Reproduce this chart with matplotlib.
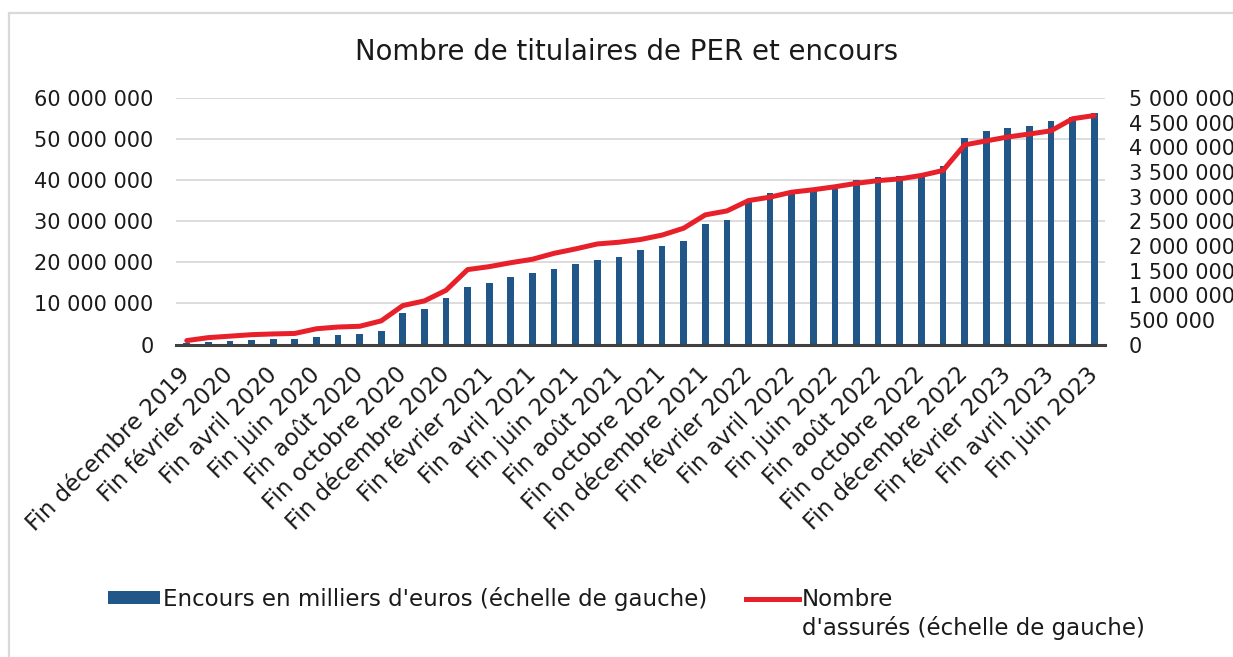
import matplotlib
matplotlib.use("Agg")
import matplotlib.pyplot as plt
from matplotlib.patches import Patch, Rectangle
from matplotlib.lines import Line2D
from matplotlib.ticker import FuncFormatter, MultipleLocator

# mois (fin de mois), décembre 2019 -> juin 2023
mois = [
    "Fin décembre 2019", "Fin janvier 2020", "Fin février 2020", "Fin mars 2020",
    "Fin avril 2020", "Fin mai 2020", "Fin juin 2020", "Fin juillet 2020",
    "Fin août 2020", "Fin septembre 2020", "Fin octobre 2020", "Fin novembre 2020",
    "Fin décembre 2020", "Fin janvier 2021", "Fin février 2021", "Fin mars 2021",
    "Fin avril 2021", "Fin mai 2021", "Fin juin 2021", "Fin juillet 2021",
    "Fin août 2021", "Fin septembre 2021", "Fin octobre 2021", "Fin novembre 2021",
    "Fin décembre 2021", "Fin janvier 2022", "Fin février 2022", "Fin mars 2022",
    "Fin avril 2022", "Fin mai 2022", "Fin juin 2022", "Fin juillet 2022",
    "Fin août 2022", "Fin septembre 2022", "Fin octobre 2022", "Fin novembre 2022",
    "Fin décembre 2022", "Fin janvier 2023", "Fin février 2023", "Fin mars 2023",
    "Fin avril 2023", "Fin mai 2023", "Fin juin 2023",
]

# encours en milliers d'euros (échelle de gauche)
encours = [
    300_000, 500_000, 800_000, 1_000_000, 1_250_000, 1_450_000, 1_900_000,
    2_250_000, 2_550_000, 3_200_000, 7_650_000, 8_600_000, 11_300_000,
    14_100_000, 15_000_000, 16_400_000, 17_400_000, 18_400_000, 19_600_000,
    20_500_000, 21_400_000, 22_900_000, 24_000_000, 25_100_000, 29_400_000,
    30_200_000, 34_600_000, 37_000_000, 37_300_000, 37_700_000, 38_300_000,
    40_000_000, 40_700_000, 40_900_000, 41_200_000, 43_400_000, 50_200_000,
    51_900_000, 52_700_000, 53_300_000, 54_400_000, 55_500_000, 56_300_000,
]

# nombre d'assurés (échelle de droite)
assures = [
    80_000, 140_000, 170_000, 200_000, 215_000, 225_000, 320_000, 355_000,
    370_000, 480_000, 790_000, 885_000, 1_100_000, 1_520_000, 1_580_000,
    1_660_000, 1_730_000, 1_850_000, 1_940_000, 2_040_000, 2_075_000,
    2_130_000, 2_220_000, 2_360_000, 2_630_000, 2_710_000, 2_920_000,
    2_990_000, 3_090_000, 3_140_000, 3_200_000, 3_270_000, 3_325_000,
    3_360_000, 3_430_000, 3_530_000, 4_050_000, 4_130_000, 4_210_000,
    4_270_000, 4_335_000, 4_580_000, 4_645_000,
]

BLEU = "#215689"
ROUGE = "#E8202A"
GRILLE = "#D9D9D9"
TEXTE = "#1a1a1a"

plt.rcParams["font.family"] = ["DejaVu Sans"]


def milliers(v, _pos):
    return f"{int(round(v)):,}".replace(",", " ")


fig = plt.figure(figsize=(12.33, 6.57), dpi=100)
ax = fig.add_axes([0.1427, 0.4756, 0.7535, 0.3752])
ax2 = ax.twinx()

x = list(range(len(mois)))
ax.bar(x, encours, width=0.31, color=BLEU, zorder=2)
ax2.plot(x, assures, color=ROUGE, lw=3.6, solid_capstyle="round", zorder=3)

ax.set_xlim(-0.5, len(mois) - 0.5)
ax.set_ylim(0, 60_000_000)
ax2.set_ylim(0, 5_000_000)
ax.yaxis.set_major_locator(MultipleLocator(10_000_000))
ax2.yaxis.set_major_locator(MultipleLocator(500_000))
ax.yaxis.set_major_formatter(FuncFormatter(milliers))
ax2.yaxis.set_major_formatter(FuncFormatter(milliers))

ax.grid(axis="y", color=GRILLE, lw=1.3, zorder=0)
ax.set_axisbelow(True)
for a in (ax, ax2):
    for s in a.spines.values():
        s.set_visible(False)
ax.spines["bottom"].set_visible(True)
ax.spines["bottom"].set_color("#404040")
ax.spines["bottom"].set_linewidth(2.2)

ax.tick_params(axis="y", length=0, pad=16, labelsize=15, labelcolor=TEXTE)
ax2.tick_params(axis="y", length=0, pad=17, labelsize=15, labelcolor=TEXTE)
ax.set_xticks(x[::2])
ax.set_xticklabels(mois[::2], rotation=45, ha="right", va="center",
                   rotation_mode="anchor", fontsize=16.5, color=TEXTE)
ax.tick_params(axis="x", length=0, pad=19)

fig.text(0.5085, 0.921, "Nombre de titulaires de PER et encours",
         ha="center", va="center", fontsize=19.8, color=TEXTE)

# cadre gris clair autour du graphique
fig.patches.append(Rectangle((0.0073, -0.05), 1.2, 1.03, transform=fig.transFigure,
                             fill=False, edgecolor=GRILLE, lw=1.6))

handles = [Patch(facecolor=BLEU, edgecolor="none"),
           Line2D([0], [0], color=ROUGE, lw=3.6)]
leg = fig.legend(handles, ["Encours en milliers d'euros (échelle de gauche)", "Nombre"],
                 loc="upper left", bbox_to_anchor=(0.0779, 0.124), ncol=2,
                 frameon=False, fontsize=16.5, handlelength=2.3, handleheight=0.5,
                 handletextpad=0.12, columnspacing=1.7, borderpad=0,
                 labelcolor=TEXTE)

# seconde ligne de la légende du nombre d'assurés
fig.canvas.draw()
bb = leg.get_texts()[1].get_window_extent()
x0 = bb.x0 / fig.bbox.width
fig.text(x0, 1 - 628 / 657, "d'assurés (échelle de gauche)",
         ha="left", va="center", fontsize=16.5, color=TEXTE)

fig.savefig("out.png", dpi=100)
